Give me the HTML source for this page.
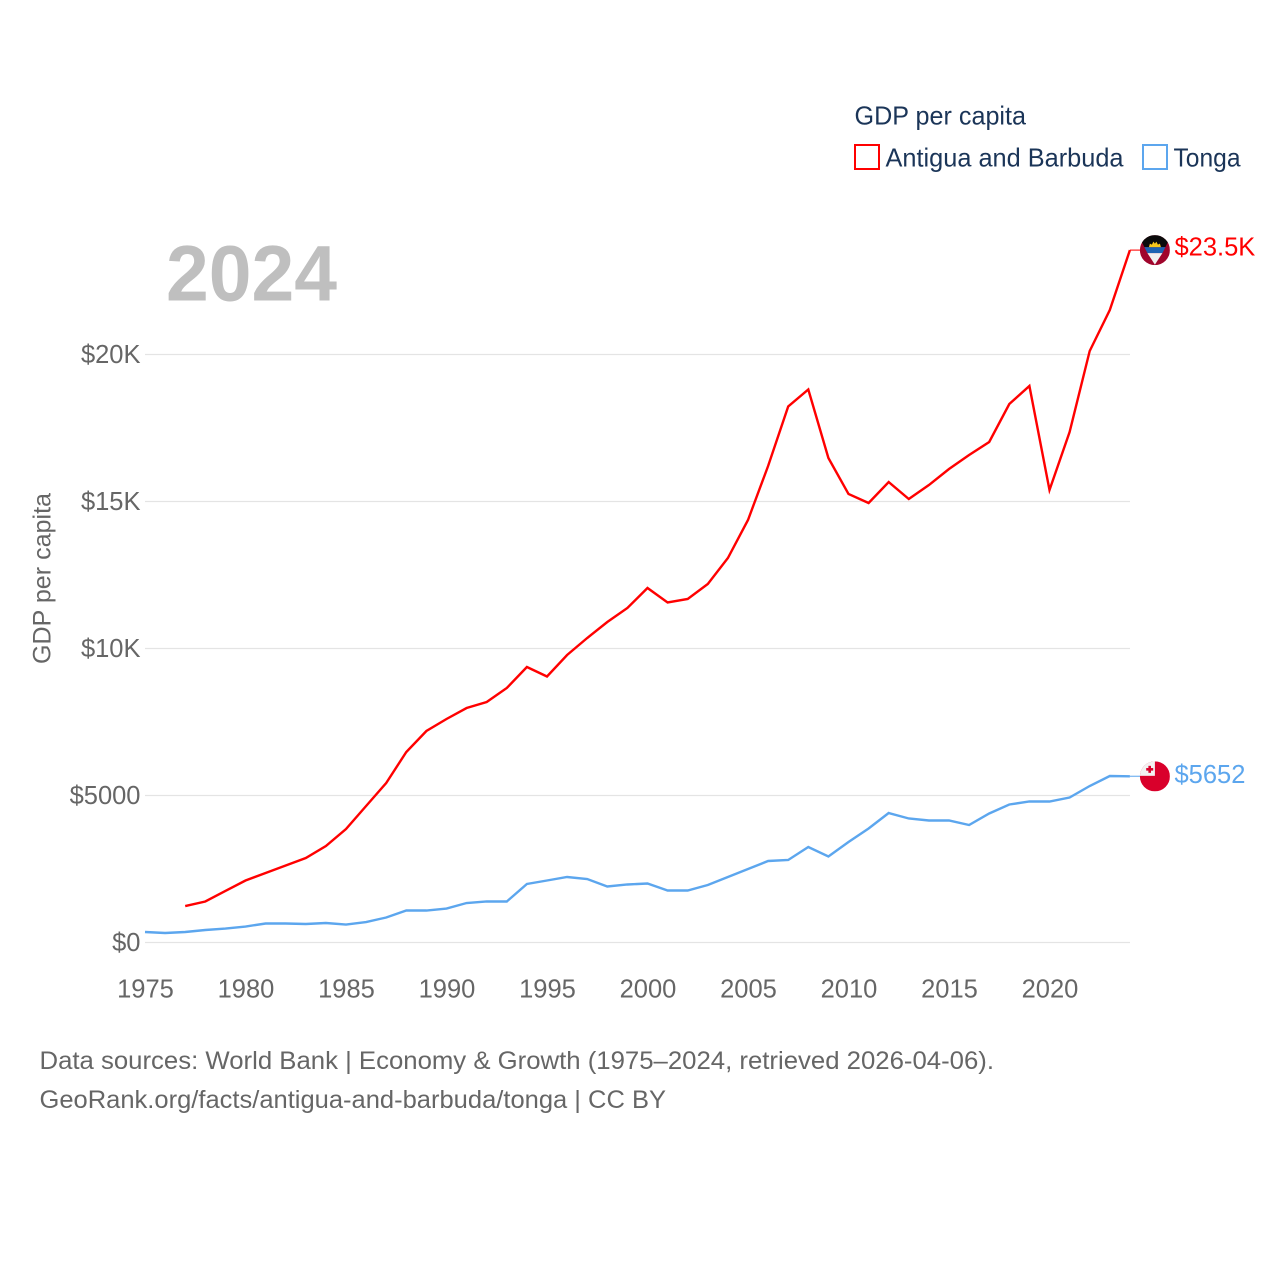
<!DOCTYPE html>
<html lang="en">
<head>
<meta charset="utf-8">
<title>GDP per capita: Antigua and Barbuda vs Tonga</title>
<style>
  html, body { margin: 0; padding: 0; background: #fff; }
  svg { display: block; }
  text { font-family: "Liberation Sans", sans-serif; }
</style>
</head>
<body>
<svg id="chart" width="1280" height="1280" viewBox="0 0 1280 1280" xmlns="http://www.w3.org/2000/svg">
  <defs>
    <clipPath id="flag-clip"><circle cx="0" cy="0" r="15"></circle></clipPath>
  </defs>
  <rect x="0" y="0" width="1280" height="1280" fill="#ffffff"></rect>

  <g>
    <text x="854.5" y="124.5" font-size="26" fill="#1b3558" textLength="171.5" lengthAdjust="spacingAndGlyphs">GDP per capita</text>
    <rect x="855" y="145" width="24" height="24" fill="none" stroke="#ff0000" stroke-width="2"></rect>
    <text x="885.5" y="166.5" font-size="26" fill="#1b3558" textLength="238" lengthAdjust="spacingAndGlyphs">Antigua and Barbuda</text>
    <rect x="1143" y="145" width="24" height="24" fill="none" stroke="#5ca6ee" stroke-width="2"></rect>
    <text x="1173.5" y="166.5" font-size="26" fill="#1b3558" textLength="67" lengthAdjust="spacingAndGlyphs">Tonga</text>
  </g>

  <text x="166" y="300.5" font-size="79" font-weight="700" fill="#bfbfbf" textLength="171" lengthAdjust="spacingAndGlyphs">2024</text>

  <g id="grid"></g>
  <g id="y-axis"></g>
  <g id="x-axis"></g>

  <text transform="translate(50.5,664) rotate(-90)" x="0" y="0" font-size="25" fill="#666666" textLength="171" lengthAdjust="spacingAndGlyphs">GDP per capita</text>

  <g id="series"></g>

  <g id="flag-antigua">
    <g clip-path="url(#flag-clip)">
      <rect x="-15" y="-15" width="30" height="30" fill="#a0052c"></rect>
      <polygon points="-15,-15 15,-15 15,-12 10.5,-3 -10.5,-3 -15,-12" fill="#0b0b0b"></polygon>
      <polygon points="-10.5,-3 10.5,-3 7.5,3 -7.5,3" fill="#1d63b3"></polygon>
      <polygon points="-7.5,3 7.5,3 0,14.5" fill="#f0f0f0"></polygon>
      <polygon points="-6,-3 -5,-6.5 -3,-5.5 -1.5,-8.5 0,-6.5 1.5,-8.5 3,-5.5 5,-6.5 6,-3" fill="#f6c71c"></polygon>
    </g>
  </g>
  <g id="flag-tonga">
    <g clip-path="url(#flag-clip)">
      <rect x="-15" y="-15" width="30" height="30" fill="#d9002b"></rect>
      <rect x="-15" y="-15" width="15" height="14.5" fill="#f2f2f2"></rect>
      <rect x="-6.5" y="-10.5" width="2.6" height="7" fill="#d9002b"></rect>
      <rect x="-8.7" y="-8.3" width="7" height="2.6" fill="#d9002b"></rect>
    </g>
  </g>

  <text id="label-antigua" x="1174.5" y="255" font-size="25.5" fill="#ff0000"></text>
  <text id="label-tonga" x="1174.5" y="782" font-size="25.5" fill="#5ca6ee"></text>

  <text x="39.5" y="1069" font-size="25" fill="#666666" textLength="954.5" lengthAdjust="spacingAndGlyphs">Data sources: World Bank | Economy &amp; Growth (1975–2024, retrieved 2026-04-06).</text>
  <text x="39.5" y="1108" font-size="25" fill="#666666" textLength="626.5" lengthAdjust="spacingAndGlyphs">GeoRank.org/facts/antigua-and-barbuda/tonga | CC BY</text>
</svg>

<script>
const years = [1975,1976,1977,1978,1979,1980,1981,1982,1983,1984,1985,1986,1987,1988,1989,1990,1991,1992,1993,1994,1995,1996,1997,1998,1999,2000,2001,2002,2003,2004,2005,2006,2007,2008,2009,2010,2011,2012,2013,2014,2015,2016,2017,2018,2019,2020,2021,2022,2023,2024];
const antiguaValues = [null,null,1240,1395,1752,2109,2364,2619,2874,3282,3861,4643,5425,6480,7194,7602,7976,8180,8656,9371,9048,9779,10357,10901,11378,12058,11565,11684,12194,13078,14371,16207,18231,18810,16480,15255,14949,15663,15085,15561,16105,16582,17024,18316,18929,15391,17364,20119,21514,23550];
const tongaValues = [357,323,357,425,476,544,646,646,629,663,612,697,850,1088,1088,1156,1343,1395,1395,1990,2109,2228,2160,1905,1973,2007,1769,1769,1956,2228,2500,2772,2806,3248,2925,3418,3878,4405,4218,4150,4150,3997,4388,4694,4796,4796,4932,5323,5663,5652];
const yTickValues = [0,5000,10000,15000,20000];
const yTickLabels = ["$0","$5000","$10K","$15K","$20K"];
const xTickYears = [1975,1980,1985,1990,1995,2000,2005,2010,2015,2020];
const antiguaLabel = "$23.5K";
const tongaLabel = "$5652";

const SVG_NS = "http://www.w3.org/2000/svg";
function xScale(year) { return 145 + (year - 1975) * 20.1; }
function yScale(value) { return 942.5 - value * 0.0294; }

function make(tag, attrs, parent) {
  const el = document.createElementNS(SVG_NS, tag);
  Object.keys(attrs).forEach(function (k) { el.setAttribute(k, attrs[k]); });
  parent.appendChild(el);
  return el;
}

const gridGroup = document.getElementById("grid");
const yAxisGroup = document.getElementById("y-axis");
const xAxisGroup = document.getElementById("x-axis");
const seriesGroup = document.getElementById("series");

yTickValues.forEach(function (v, i) {
  const line = make("line", { x1: 145, x2: 1130, y1: yScale(v), y2: yScale(v), stroke: "#e4e4e4", "stroke-width": 1.2 }, gridGroup);
  
  
  const label = make("text", { x: 140.5, y: yScale(v) + 8.5, "text-anchor": "end", "font-size": 25.5, fill: "#666666" }, yAxisGroup);
  
  
  label.textContent = yTickLabels[i];
});

xTickYears.forEach(function (yr) {
  const label = make("text", { x: xScale(yr) + 0.5, y: 997.5, "text-anchor": "middle", "font-size": 25.5, fill: "#666666" }, xAxisGroup);
  
  
  label.textContent = String(yr);
});

function drawSeries(values, color, lineName, connectorName) {
  let d = "";
  let lastX = 0, lastY = 0;
  values.forEach(function (v, i) {
    if (v === null) return;
    lastX = xScale(years[i]);
    lastY = yScale(v);
    d += (d === "" ? "M" : "L") + lastX.toFixed(2) + " " + lastY.toFixed(2) + " ";
  });
  const connector = make("line", { x1: lastX, x2: lastX + 12, y1: lastY, y2: lastY, stroke: color, "stroke-width": 1.4, "stroke-opacity": 0.75 }, seriesGroup);
  
  
  const path = make("path", { d: d, fill: "none", stroke: color, "stroke-width": 2.4, "stroke-linejoin": "miter" }, seriesGroup);
  
  
  return { x: lastX, y: lastY };
}

const antiguaEnd = drawSeries(antiguaValues, "#ff0000", "line-antigua-and-barbuda", "connector-antigua");
const tongaEnd = drawSeries(tongaValues, "#5ca6ee", "line-tonga", "connector-tonga");

document.getElementById("flag-antigua").setAttribute("transform", "translate(" + (antiguaEnd.x + 25) + "," + antiguaEnd.y + ")");
document.getElementById("flag-tonga").setAttribute("transform", "translate(" + (tongaEnd.x + 25) + "," + tongaEnd.y + ")");

const labelAntigua = document.getElementById("label-antigua");
labelAntigua.textContent = antiguaLabel;
labelAntigua.setAttribute("y", antiguaEnd.y + 5.5);
const labelTonga = document.getElementById("label-tonga");
labelTonga.textContent = tongaLabel;
labelTonga.setAttribute("y", tongaEnd.y + 6.5);
</script>
</body>
</html>
